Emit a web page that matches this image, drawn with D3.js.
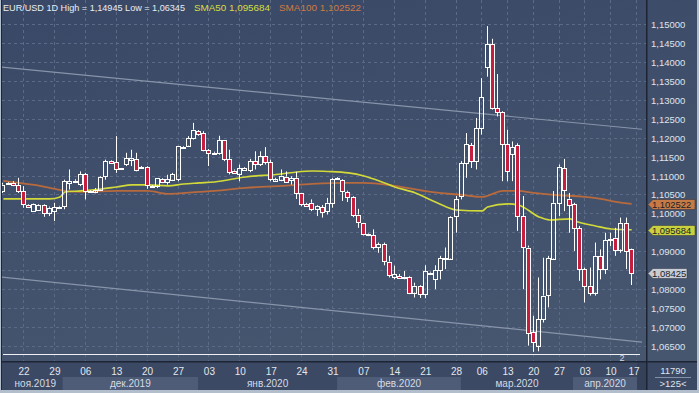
<!DOCTYPE html>
<html>
<head>
<meta charset="utf-8">
<script src="https://cdn.jsdelivr.net/npm/d3@7"></script>
<style>
html, body { margin: 0; padding: 0; background: #b3becc; }
svg { display: block; font-family: "Liberation Sans", Arial, sans-serif; }
</style>
</head>
<body>
<svg id="chart" width="699" height="393"></svg>
<script>
// daily EUR/USD candles, bar index 0..122
const opens = [1.1059,1.1080,1.1081,1.1075,1.1059,1.1022,1.1006,1.1009,1.1022,1.1002,
  1.1006,1.1017,1.1019,1.1079,1.1085,1.1076,1.1103,1.1059,1.1059,1.1063,
  1.1098,1.1138,1.1135,1.1118,1.1129,1.1142,1.1144,1.1122,1.1123,1.1073,
  1.1074,1.1091,1.1082,1.1089,1.1089,1.1175,1.1179,1.1199,1.1217,1.1211,
  1.1167,1.1160,1.1160,1.1195,1.1144,1.1113,1.1105,1.1114,1.1114,1.1138,
  1.1129,1.1151,1.1135,1.1087,1.1089,1.1097,1.1087,1.1094,1.1054,1.1025,
  1.1028,1.1012,1.1017,1.1006,1.1028,1.1092,1.1088,1.1057,1.1044,1.0997,
  1.0975,1.0945,1.0942,1.0910,1.0919,1.0873,1.0831,1.0835,1.0833,1.0833,
  1.0791,1.0809,1.0785,1.0843,1.0826,1.0850,1.0880,1.0881,1.0991,1.1046,
  1.1133,1.1180,1.1138,1.1225,1.1386,1.1447,1.1278,1.1268,1.1183,1.1157,
  1.1180,1.0993,1.0910,1.0686,1.0651,1.0721,1.0783,1.0881,1.1028,1.1120,
  1.1039,1.1024,1.0961,1.0853,1.0809,1.0791,1.0888,1.0853,1.0930,1.0936,
  1.0905,1.0975,1.0905]
const highs = [1.1081,1.1083,1.1085,1.1094,1.1072,1.1024,1.1026,1.1024,1.1024,1.1018,
  1.1028,1.1020,1.1089,1.1116,1.1090,1.1111,1.1107,1.1061,1.1067,1.1098,
  1.1142,1.1140,1.1204,1.1120,1.1160,1.1168,1.1160,1.1125,1.1125,1.1075,
  1.1094,1.1093,1.1102,1.1107,1.1177,1.1178,1.1204,1.1239,1.1220,1.1217,
  1.1170,1.1163,1.1205,1.1195,1.1168,1.1116,1.1129,1.1122,1.1144,1.1164,
  1.1164,1.1175,1.1142,1.1094,1.1116,1.1111,1.1098,1.1110,1.1054,1.1028,
  1.1037,1.1022,1.1022,1.1041,1.1094,1.1096,1.1090,1.1060,1.1046,1.1012,
  1.0975,1.0947,1.0958,1.0923,1.0923,1.0888,1.0862,1.0840,1.0848,1.0835,
  1.0817,1.0811,1.0863,1.0846,1.0863,1.0888,1.0910,1.0993,1.1046,1.1138,
  1.1212,1.1186,1.1252,1.1357,1.14945,1.1461,1.1368,1.1270,1.1221,1.1190,
  1.1185,1.1046,1.0915,1.0730,1.0831,1.0883,1.0888,1.1059,1.1129,1.1144,
  1.1054,1.1028,1.0967,1.0857,1.0857,1.0923,1.0905,1.0949,1.0949,1.0962,
  1.0989,1.0989,1.0907]
const lows = [1.1054,1.1078,1.1072,1.1054,1.1015,1.1016,1.1004,1.1007,1.0991,1.0993,
  1.0980,1.1015,1.1011,1.1063,1.1080,1.1072,1.1037,1.1056,1.1053,1.1059,
  1.1089,1.1131,1.1107,1.1116,1.1125,1.1125,1.1111,1.1120,1.1065,1.1070,
  1.1067,1.1080,1.1076,1.1087,1.1085,1.1173,1.1177,1.1195,1.1205,1.1164,
  1.1125,1.1155,1.1155,1.1138,1.1103,1.1104,1.1085,1.1112,1.1109,1.1116,
  1.1125,1.1129,1.1085,1.1083,1.1085,1.1081,1.1076,1.1038,1.1019,1.1018,
  1.1006,1.0993,1.0989,1.0997,1.1015,1.1090,1.1033,1.1030,1.0990,1.0962,
  1.0942,1.0940,1.0905,1.0896,1.0863,1.0831,1.0826,1.0828,1.0826,1.0787,
  1.0778,1.0777,1.0776,1.0840,1.0800,1.0826,1.0853,1.0879,1.0949,1.1037,
  1.1094,1.1120,1.1116,1.1208,1.1361,1.1274,1.1256,1.1085,1.1085,1.1085,
  1.0954,1.0800,1.0651,1.06345,1.0636,1.0712,1.0752,1.0879,1.0993,1.1006,
  1.0949,1.0901,1.0822,1.0765,1.0783,1.0783,1.0826,1.0840,1.0914,1.0888,
  1.0896,1.0853,1.0811]
const closes = [1.1076,1.1081,1.1075,1.1059,1.1024,1.1018,1.1024,1.1022,1.1000,1.1015,
  1.1017,1.1018,1.1085,1.1085,1.1086,1.1103,1.1059,1.1058,1.1063,1.1096,
  1.1138,1.1133,1.1117,1.1119,1.1145,1.1147,1.1116,1.1121,1.1076,1.1072,
  1.1094,1.1082,1.1091,1.1104,1.1177,1.1176,1.1199,1.1221,1.1208,1.1167,
  1.1160,1.1159,1.1193,1.1144,1.1109,1.1107,1.1120,1.1120,1.1138,1.1129,
  1.1151,1.1135,1.1091,1.1091,1.1100,1.1085,1.1093,1.1054,1.1024,1.1020,
  1.1012,1.1020,1.1003,1.1028,1.1091,1.1094,1.1059,1.1044,1.0997,1.0978,
  1.0945,1.0943,1.0910,1.0919,1.0875,1.0840,1.0840,1.0831,1.0832,1.0791,
  1.0809,1.0787,1.0847,1.0844,1.0850,1.0881,1.0882,1.0991,1.1037,1.1133,
  1.1182,1.1138,1.1225,1.1306,1.1447,1.1278,1.1268,1.1183,1.1113,1.1175,
  1.0993,1.0910,1.0686,1.0660,1.0721,1.0783,1.0881,1.1028,1.1123,1.1063,
  1.1024,1.0961,1.0853,1.0809,1.0790,1.0888,1.0853,1.0930,1.0933,1.0905,
  1.0975,1.0901,1.08425]

// moving averages (bar index, value)
const sma50Idx = [0,9,11,12,15,19,22,25,28,32,35,38,41,47,54,57,60,63,67,70,73,76,80,83,86,88,93,94,98,100,104,106,110,111,115,118,122]
const sma50Val = [1.10383,1.10383,1.10435,1.10567,1.10594,1.10646,1.10699,1.10752,1.10752,1.10726,1.10778,1.10805,1.10831,1.10963,1.11042,1.11095,1.11121,1.11108,1.11069,1.10989,1.10857,1.10699,1.10541,1.10356,1.10172,1.10092,1.10066,1.10172,1.10251,1.10224,1.09908,1.09828,1.09855,1.09802,1.09670,1.09590,1.095684]
const sma100Idx = [0,3,6,9,12,15,22,28,32,38,41,47,54,60,67,70,76,83,89,93,97,100,103,107,113,116,119,122]
const sma100Val = [1.10858,1.10805,1.10752,1.10673,1.10594,1.10567,1.10594,1.10594,1.10515,1.10567,1.10594,1.10673,1.10726,1.10778,1.10805,1.10805,1.10726,1.10567,1.10488,1.10435,1.10594,1.10594,1.10541,1.10488,1.10435,1.10383,1.10303,1.102522]

// channel lines (start/end bar and value)
const channelIdx = [0, 122]
const upperVal = [1.13858, 1.12248]
const lowerVal = [1.08317, 1.06631]

const priceTicks = [1.150,1.145,1.140,1.135,1.130,1.125,1.120,1.115,1.110,1.105,1.100,1.095,1.090,1.085,1.080,1.075,1.070,1.065]
const weekLabels = ["22","29","06","13","20","27","03","10","17","24","31","07","14","21","28","06","13","20","27","03","10","17"]
const weekIdx = [4,10,16,22,28,34,40,46,52,58,64,70,76,82,88,93,98,103,108,113,118,123]
const monthLabels = ["ноя.2019","дек.2019","янв.2020","фев.2020","мар.2020","апр.2020"]
const monthStart = [-0.66,11.5,37.8,64.8,88.85,110.6]
const monthEnd = [11.5,37.8,64.8,88.85,110.6,123.6]

const svg = d3.select("#chart")
const W = 699, H = 393
const plot = {left: 2, right: 646, top: 0, bottom: 361}

const x = d3.scaleLinear().domain([0, 122]).range([3.4, 631.7])
const y = d3.scaleLinear().domain([1.065, 1.15]).range([346, 24])
const fmt = v => d3.format(".5f")(v).replace(".", ",")

const defs = svg.append("defs")
const grad = defs.append("linearGradient").attr("id", "bg").attr("x1", 0).attr("y1", 0).attr("x2", 0.3).attr("y2", 1)
grad.append("stop").attr("offset", 0).attr("stop-color", "#394866")
grad.append("stop").attr("offset", 1).attr("stop-color", "#47566f")
defs.append("clipPath").attr("id", "clip").append("rect")
	.attr("x", plot.left).attr("y", plot.top)
	.attr("width", plot.right - plot.left).attr("height", plot.bottom - plot.top)

// frame and backgrounds
svg.append("rect").attr("width", W).attr("height", H).attr("fill", "#b3becc")
svg.append("rect").attr("x", 2).attr("y", 0).attr("width", 695).attr("height", 390).attr("fill", "url(#bg)")
svg.append("rect").attr("x", 1).attr("y", 0).attr("width", 1).attr("height", 390).attr("fill", "#1f2737")

// bottom axis area
const axisTop = 362
svg.append("rect").attr("x", 2).attr("y", axisTop).attr("width", 695).attr("height", 28).attr("fill", "#3b4964")
svg.selectAll(".band")
	.data(monthLabels)
	.enter()
	.append("rect")
		.attr("x", (d, i) => Math.max(2, x(monthStart[i])))
		.attr("y", 377)
		.attr("width", (d, i) => Math.min(x(monthEnd[i]), 637) - Math.max(2, x(monthStart[i])))
		.attr("height", 13)
		.attr("fill", (d, i) => i % 2 ? "#4e5c77" : "#3b4964")
svg.append("rect").attr("x", 637).attr("y", axisTop).attr("width", 9).attr("height", 28).attr("fill", "#344159")

svg.selectAll(".month")
	.data(monthLabels)
	.enter()
	.append("text")
		.attr("x", (d, i) => (Math.max(2, x(monthStart[i])) + Math.min(x(monthEnd[i]), 637)) / 2 + (i === 0 ? 3 : 0))
		.attr("y", 387)
		.attr("text-anchor", "middle")
		.attr("font-size", 10)
		.attr("fill", "#d5dbe5")
		.text(d => d)

svg.selectAll(".week")
	.data(weekLabels)
	.enter()
	.append("text")
		.attr("x", (d, i) => Math.min(x(weekIdx[i]), 634))
		.attr("y", 375)
		.attr("text-anchor", "middle")
		.attr("font-size", 10)
		.attr("fill", "#e3e7ee")
		.text(d => d)

// grid
const g = svg.append("g").attr("clip-path", "url(#clip)")
g.selectAll(".hgrid")
	.data(priceTicks)
	.enter()
	.append("line")
		.attr("x1", plot.left).attr("x2", plot.right)
		.attr("y1", d => Math.round(y(d)) + 0.5).attr("y2", d => Math.round(y(d)) + 0.5)
		.attr("stroke", "#5b6b87").attr("stroke-dasharray", "3,3")
g.selectAll(".vgrid")
	.data(weekIdx)
	.enter()
	.append("line")
		.attr("x1", d => Math.round(x(d)) - 0.5).attr("x2", d => Math.round(x(d)) - 0.5)
		.attr("y1", 0).attr("y2", plot.bottom)
		.attr("stroke", "#5b6b87").attr("stroke-dasharray", "3,3")

// channel
const chanLine = d3.line().x(d => x(d[0])).y(d => y(d[1]))
const extend = (vals) => {
	const slope = (vals[1] - vals[0]) / (channelIdx[1] - channelIdx[0])
	return [[-1, vals[0] - slope], [124, vals[1] + slope * 2]]
}
g.append("path").attr("d", chanLine(extend(upperVal)))
	.attr("fill", "none").attr("stroke", "#8894a9").attr("stroke-width", 1.2)
g.append("path").attr("d", chanLine(extend(lowerVal)))
	.attr("fill", "none").attr("stroke", "#8894a9").attr("stroke-width", 1.2)

// moving averages
const smaLine = d3.line().x(d => x(d[0])).y(d => y(d[1])).curve(d3.curveMonotoneX)
g.append("path").attr("d", smaLine(sma100Idx.map((d, i) => [d, sma100Val[i]])))
	.attr("fill", "none").attr("stroke", "#b76a3d").attr("stroke-width", 1.8)
g.append("path").attr("d", smaLine(sma50Idx.map((d, i) => [d, sma50Val[i]])))
	.attr("fill", "none").attr("stroke", "#d2da3a").attr("stroke-width", 1.6)

// candles
const candles = d3.range(opens.length).map(i => ({i, o: opens[i], h: highs[i], l: lows[i], c: closes[i]}))
const cg = g.selectAll(".candle")
	.data(candles)
	.enter()
	.append("g")
const cx = d => Math.round(x(d.i))
cg.append("line")
	.attr("x1", d => cx(d) - 0.5).attr("x2", d => cx(d) - 0.5)
	.attr("y1", d => y(d.h)).attr("y2", d => y(Math.max(d.o, d.c)))
	.attr("stroke", "#fff")
cg.append("line")
	.attr("x1", d => cx(d) - 0.5).attr("x2", d => cx(d) - 0.5)
	.attr("y1", d => y(Math.min(d.o, d.c))).attr("y2", d => y(d.l))
	.attr("stroke", "#fff")
cg.append("rect")
	.attr("x", d => cx(d) - 2.5)
	.attr("y", d => Math.round(y(Math.max(d.o, d.c))) + 0.5)
	.attr("width", 4)
	.attr("height", d => Math.max(1, Math.round(y(Math.min(d.o, d.c)) - y(Math.max(d.o, d.c)))))
	.attr("fill", d => d.c < d.o ? "#c41f3e" : "none")
	.attr("stroke", "#fff")

// lower strip
g.append("line").attr("x1", 3).attr("x2", 640).attr("y1", 354.5).attr("y2", 354.5).attr("stroke", "#eef0f4")
svg.append("text").attr("x", 622).attr("y", 361).attr("text-anchor", "middle")
	.attr("font-size", 9).attr("fill", "#d3d8e0").text("2")

// separators
svg.append("rect").attr("x", 2).attr("y", 361).attr("width", 695).attr("height", 1.5).attr("fill", "#1d2434")
svg.append("rect").attr("x", 646).attr("y", 0).attr("width", 1.5).attr("height", 390).attr("fill", "#1d2434")

// price tags (drawn over the axis, so labels they cover are not shown)
const tags = [
	{v: sma100Val[sma100Val.length - 1], label: "1,102522", fill: "#c67b46", w: 47},
	{v: sma50Val[sma50Val.length - 1], label: "1,095684", fill: "#c9d13f", w: 47},
	{v: closes[closes.length - 1], label: "1,08425", fill: "#c8ccd4", w: 39}
]

// right axis
svg.selectAll(".ptick")
	.data(priceTicks.filter(t => tags.every(tg => Math.abs(y(t) - y(tg.v)) > 6)))
	.enter()
	.append("text")
		.attr("x", 651)
		.attr("y", d => y(d) + 4)
		.attr("font-size", 9.5)
		.attr("fill", "#dfe4ec")
		.text(d => fmt(d))

const tg = svg.selectAll(".tag")
	.data(tags)
	.enter()
	.append("g")
tg.append("path")
	.attr("d", d => {
		const yy = Math.round(y(d.v)) + 0.5
		return `M648,${yy} L653,${yy - 5} L${648 + d.w},${yy - 5} L${648 + d.w},${yy + 5} L653,${yy + 5} Z`
	})
	.attr("fill", d => d.fill)
	.attr("stroke", "#2a3346").attr("stroke-width", 0.5)
tg.append("text")
	.attr("x", 652)
	.attr("y", d => Math.round(y(d.v)) + 3.5)
	.attr("font-size", 9)
	.attr("textLength", d => d.label.length * 4.9)
	.attr("lengthAdjust", "spacingAndGlyphs")
	.attr("fill", "#1b1f27")
	.text(d => d.label)

// corner box
svg.append("text").attr("x", 673).attr("y", 374).attr("text-anchor", "middle")
	.attr("font-size", 9.5).attr("fill", "#dfe4ec").text("11790")
svg.append("line").attr("x1", 655).attr("x2", 691).attr("y1", 377.5).attr("y2", 377.5).attr("stroke", "#8391a8")
svg.append("text").attr("x", 673).attr("y", 387).attr("text-anchor", "middle")
	.attr("font-size", 9.5).attr("fill", "#dfe4ec").text(">125<")

// legend
svg.append("text").attr("x", 3).attr("y", 11).attr("font-size", 9)
	.attr("textLength", 182).attr("lengthAdjust", "spacingAndGlyphs")
	.attr("fill", "#e9edf3").text("EUR/USD 1D High = 1,14945 Low = 1,06345")
svg.append("text").attr("x", 194).attr("y", 11).attr("font-size", 9)
	.attr("textLength", 76).attr("lengthAdjust", "spacingAndGlyphs")
	.attr("fill", "#d6de3e").text("SMA50 1,095684")
svg.append("text").attr("x", 279).attr("y", 11).attr("font-size", 9)
	.attr("textLength", 82).attr("lengthAdjust", "spacingAndGlyphs")
	.attr("fill", "#cf7a44").text("SMA100 1,102522")
</script>
</body>
</html>
